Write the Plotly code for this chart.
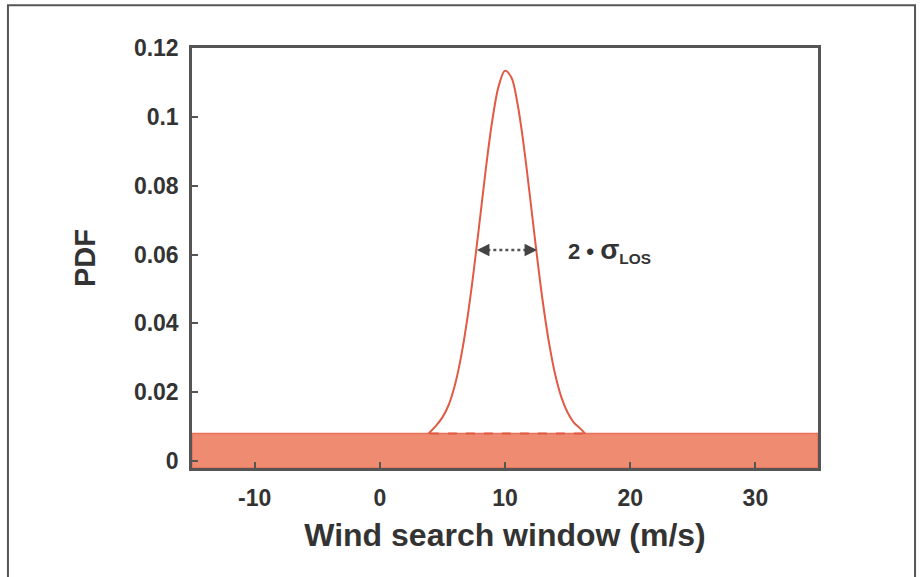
import plotly.graph_objects as go

# ---- data ----
x_range = [-15, 35]
y_range = [-0.002, 0.12]
x_ticks = [-10, 0, 10, 20, 30]
x_tick_labels = ["-10", "0", "10", "20", "30"]
y_ticks = [0, 0.02, 0.04, 0.06, 0.08, 0.1, 0.12]
y_tick_labels = ["0", "0.02", "0.04", "0.06", "0.08", "0.1", "0.12"]

band_level = 0.008  # uniform background PDF level

curve_x = [3.9, 4.5, 5.0, 5.5, 6.0, 6.5, 7.0, 7.5, 8.0, 8.5, 9.0, 9.5, 10.0, 10.5,
           11.0, 11.5, 12.0, 12.5, 13.0, 13.5, 14.0, 14.5, 15.0, 15.5, 16.0, 16.4]
curve_y = [0.0080, 0.0103, 0.0127, 0.0163, 0.0221, 0.0305, 0.0416, 0.0552, 0.0704,
           0.0858, 0.0993, 0.1090, 0.1134, 0.1115, 0.1038, 0.0916, 0.0767, 0.0612,
           0.0468, 0.0347, 0.0253, 0.0186, 0.0141, 0.0112, 0.0095, 0.0080]

dashed_x = [4.0, 16.3]
arrow_left_x = 7.76
arrow_right_x = 12.56
arrow_y = 0.0613
label_x = 14.9

DARK = "#333333"
AXIS = "#555555"
RED = "#E05A44"
BAND = "#EF8B70"
FONT = "Liberation Sans, Arial, sans-serif"

fig = go.Figure()

# uniform band
fig.add_trace(go.Scatter(
    x=[x_range[0], x_range[1], x_range[1], x_range[0], x_range[0]],
    y=[y_range[0], y_range[0], band_level, band_level, y_range[0]],
    fill="toself", fillcolor=BAND, mode="lines",
    line=dict(color="#E8715A", width=1.5), hoverinfo="skip", showlegend=False))

# dashed line on top of band
fig.add_trace(go.Scatter(
    x=dashed_x, y=[band_level, band_level], mode="lines",
    line=dict(color=RED, width=2, dash="dash"), showlegend=False))

# gaussian curve
fig.add_trace(go.Scatter(
    x=curve_x, y=curve_y, mode="lines", line=dict(color=RED, width=2, shape="spline"),
    showlegend=False))

# dotted line for the double arrow
fig.add_trace(go.Scatter(
    x=[arrow_left_x + 0.35, arrow_right_x - 0.35], y=[arrow_y, arrow_y], mode="lines",
    line=dict(color="#555555", width=2.5, dash="dot"), showlegend=False))

for xh, xt in [(arrow_left_x, arrow_left_x + 0.9), (arrow_right_x, arrow_right_x - 0.9)]:
    fig.add_annotation(x=xh, y=arrow_y, ax=xt, ay=arrow_y, axref="x", ayref="y",
                       xref="x", yref="y", text="", showarrow=True, arrowhead=2,
                       arrowsize=1, arrowwidth=2.5, arrowcolor="#444444")

fig.add_annotation(x=label_x, y=arrow_y, xref="x", yref="y", xanchor="left",
                   yanchor="middle", showarrow=False,
                   text="<b>2 \u2022 <span style='font-size:28px'>\u03c3</span>"
                        "<sub>LOS</sub></b>",
                   font=dict(family=FONT, size=22, color=DARK))

# outer frame
fig.add_shape(type="rect", xref="paper", yref="paper", x0=-0.294, x1=1.155,
              y0=-0.4, y1=1.102, line=dict(color="#555555", width=2), layer="below")

fig.update_layout(
    width=922, height=577,
    margin=dict(l=192, r=104, t=48, b=109),
    paper_bgcolor="white", plot_bgcolor="white",
    font=dict(family=FONT, color=DARK),
    showlegend=False,
)
fig.update_xaxes(
    range=x_range, tickvals=x_ticks, ticktext=x_tick_labels, ticks="inside", ticklen=6,
    tickwidth=1.5, tickcolor=AXIS, showline=True, linecolor=AXIS, linewidth=2.5,
    mirror=True, showgrid=False, zeroline=False, ticklabelstandoff=8,
    tickfont=dict(family=FONT, size=23, color=DARK, weight="bold"),
    title=dict(text="<b>Wind search window (m/s)</b>", standoff=14,
               font=dict(family=FONT, size=32, color=DARK)),
    automargin=False)
fig.update_yaxes(
    range=y_range, tickvals=y_ticks, ticktext=y_tick_labels, ticks="inside", ticklen=6,
    tickwidth=1.5, tickcolor=AXIS, showline=True, linecolor=AXIS, linewidth=2.5,
    mirror=True, showgrid=False, zeroline=False, ticklabelstandoff=6,
    tickfont=dict(family=FONT, size=23, color=DARK, weight="bold"),
    title=dict(text="<b>PDF</b>", standoff=30,
               font=dict(family=FONT, size=29, color=DARK)),
    automargin=False)

fig.write_html("out.html")
